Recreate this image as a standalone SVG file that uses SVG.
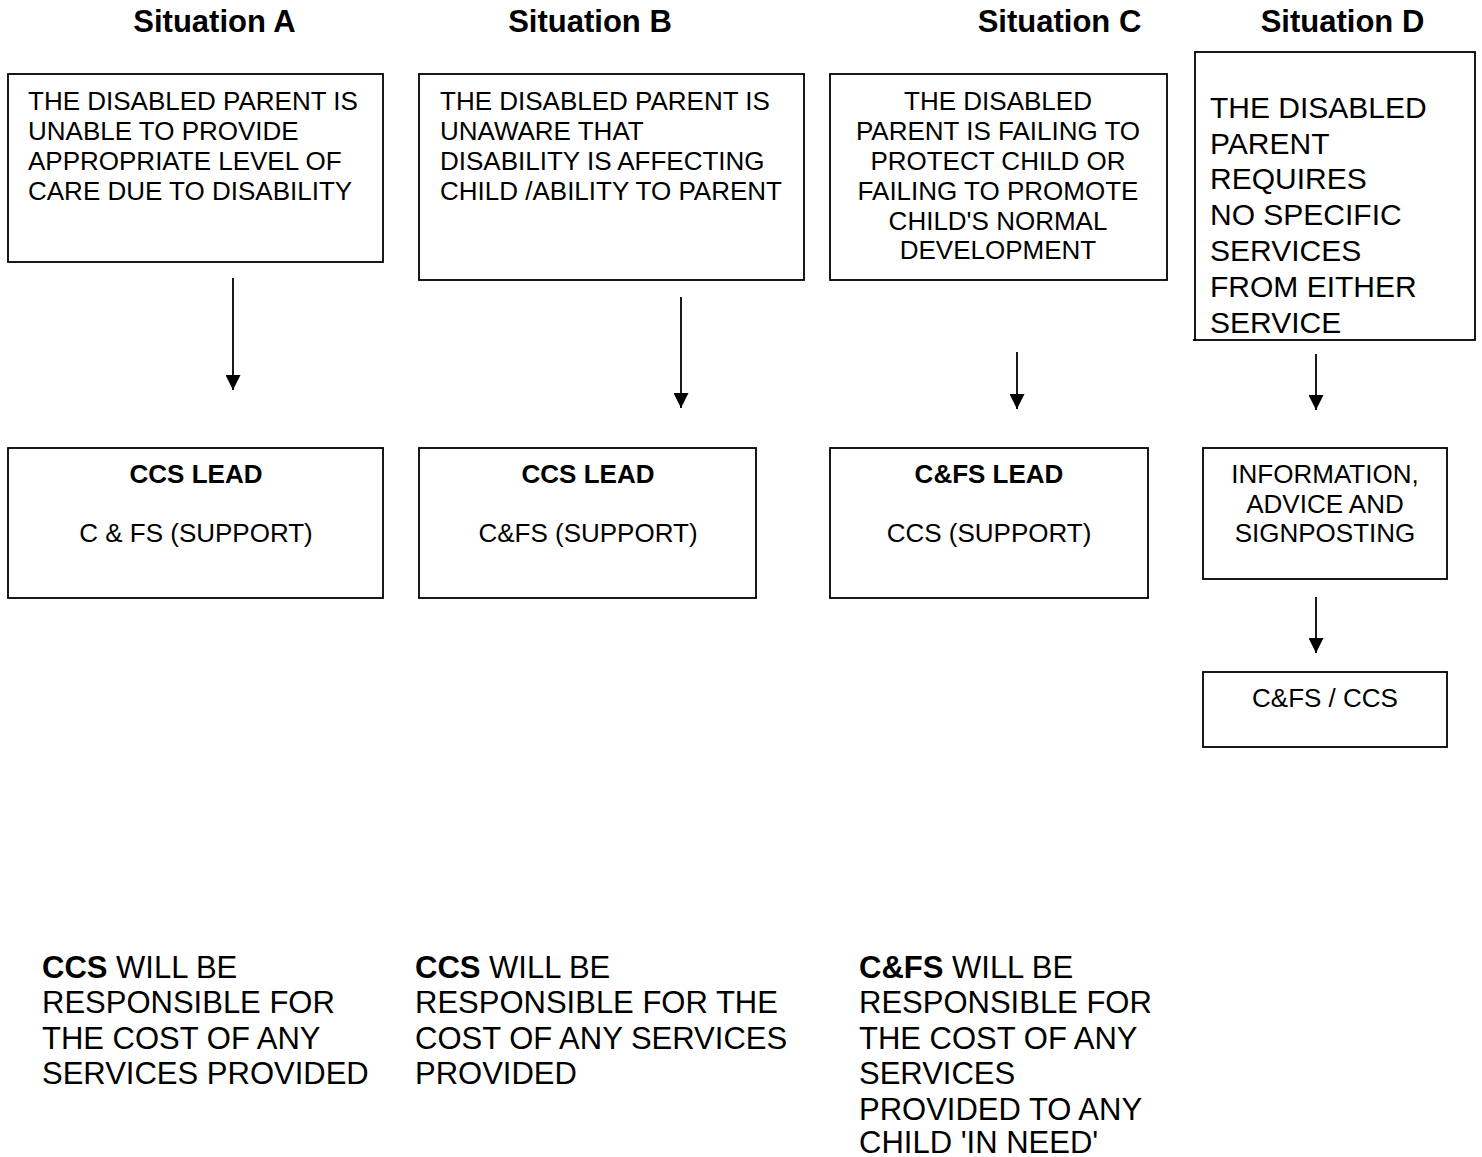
<svg xmlns="http://www.w3.org/2000/svg" width="1482" height="1157" viewBox="0 0 1482 1157">
<style>
text{font-family:"Liberation Sans",Arial,sans-serif;fill:#000}
.h{font-size:31px;font-weight:bold;text-anchor:middle}
.t{font-size:26px}
.c{text-anchor:middle}
.b{font-weight:bold}
.big{font-size:30px}
.bot{font-size:31px}
rect{fill:#fff;stroke:#000;stroke-width:1.8}
.conn line{stroke:#000;stroke-width:1.8}
</style>
<defs>
<marker id="ah" markerWidth="16" markerHeight="15" refX="15" refY="7.5" orient="auto" markerUnits="userSpaceOnUse">
<path d="M0,0 L15,7.5 L0,15 Z" fill="#000"/>
</marker>
</defs>
<g id="headings">
<text class="h" x="214.5" y="32">Situation A</text>
<text class="h" x="590" y="32">Situation B</text>
<text class="h" x="1059.5" y="32">Situation C</text>
<text class="h" x="1342.5" y="32">Situation D</text>
</g>
<g id="nodeA1">
<rect x="8" y="74" width="375" height="188"/>
<text class="t" x="28" y="110">THE DISABLED PARENT IS</text>
<text class="t" x="28" y="140">UNABLE TO PROVIDE</text>
<text class="t" x="28" y="170">APPROPRIATE LEVEL OF</text>
<text class="t" x="28" y="200">CARE DUE TO DISABILITY</text>
</g>
<g id="nodeB1">
<rect x="419" y="74" width="385" height="206"/>
<text class="t" x="440" y="110">THE DISABLED PARENT IS</text>
<text class="t" x="440" y="140">UNAWARE THAT</text>
<text class="t" x="440" y="170">DISABILITY IS AFFECTING</text>
<text class="t" x="440" y="200">CHILD /ABILITY TO PARENT</text>
</g>
<g id="nodeC1">
<rect x="830" y="74" width="337" height="206"/>
<text class="t c" x="998" y="110">THE DISABLED</text>
<text class="t c" x="998" y="140">PARENT IS FAILING TO</text>
<text class="t c" x="998" y="170">PROTECT CHILD OR</text>
<text class="t c" x="998" y="200">FAILING TO PROMOTE</text>
<text class="t c" x="998" y="230">CHILD'S NORMAL</text>
<text class="t c" x="998" y="259">DEVELOPMENT</text>
</g>
<g id="nodeD1">
<rect x="1195" y="52" width="280" height="288"/>
<line x1="1193" y1="340" x2="1196" y2="340" stroke="#000" stroke-width="1.8"/>
<text class="big" x="1210" y="118">THE DISABLED</text>
<text class="big" x="1210" y="154">PARENT</text>
<text class="big" x="1210" y="189">REQUIRES</text>
<text class="big" x="1210" y="225">NO SPECIFIC</text>
<text class="big" x="1210" y="261">SERVICES</text>
<text class="big" x="1210" y="297">FROM EITHER</text>
<text class="big" x="1210" y="333">SERVICE</text>
</g>
<g id="nodeA2">
<rect x="8" y="448" width="375" height="150"/>
<text class="t c b" x="196" y="483">CCS LEAD</text>
<text class="t c" x="196" y="542">C &amp; FS (SUPPORT)</text>
</g>
<g id="nodeB2">
<rect x="419" y="448" width="337" height="150"/>
<text class="t c b" x="588" y="483">CCS LEAD</text>
<text class="t c" x="588" y="542">C&amp;FS (SUPPORT)</text>
</g>
<g id="nodeC2">
<rect x="830" y="448" width="318" height="150"/>
<text class="t c b" x="989" y="483">C&amp;FS LEAD</text>
<text class="t c" x="989" y="542">CCS (SUPPORT)</text>
</g>
<g id="nodeD2">
<rect x="1203" y="448" width="244" height="131"/>
<text class="t c" x="1325" y="483">INFORMATION,</text>
<text class="t c" x="1325" y="513">ADVICE AND</text>
<text class="t c" x="1325" y="542">SIGNPOSTING</text>
</g>
<g id="nodeD3">
<rect x="1203" y="672" width="244" height="75"/>
<text class="t c" x="1325" y="707">C&amp;FS / CCS</text>
</g>
<g id="connectors" class="conn">
<line x1="233" y1="278" x2="233" y2="390" marker-end="url(#ah)"/>
<line x1="681" y1="297" x2="681" y2="408" marker-end="url(#ah)"/>
<line x1="1017" y1="352" x2="1017" y2="409" marker-end="url(#ah)"/>
<line x1="1316" y1="354" x2="1316" y2="410" marker-end="url(#ah)"/>
<line x1="1316" y1="597" x2="1316" y2="653" marker-end="url(#ah)"/>
</g>
<g id="notes">
<text class="bot" x="42" y="978"><tspan font-weight="bold">CCS</tspan> WILL BE</text>
<text class="bot" x="42" y="1013">RESPONSIBLE FOR</text>
<text class="bot" x="42" y="1049">THE COST OF ANY</text>
<text class="bot" x="42" y="1084">SERVICES PROVIDED</text>
<text class="bot" x="415" y="978"><tspan font-weight="bold">CCS</tspan> WILL BE</text>
<text class="bot" x="415" y="1013">RESPONSIBLE FOR THE</text>
<text class="bot" x="415" y="1049">COST OF ANY SERVICES</text>
<text class="bot" x="415" y="1084">PROVIDED</text>
<text class="bot" x="859" y="978"><tspan font-weight="bold">C&amp;FS</tspan> WILL BE</text>
<text class="bot" x="859" y="1013">RESPONSIBLE FOR</text>
<text class="bot" x="859" y="1049">THE COST OF ANY</text>
<text class="bot" x="859" y="1084">SERVICES</text>
<text class="bot" x="859" y="1120">PROVIDED TO ANY</text>
<text class="bot" x="859" y="1153">CHILD 'IN NEED'</text>
</g>
</svg>
